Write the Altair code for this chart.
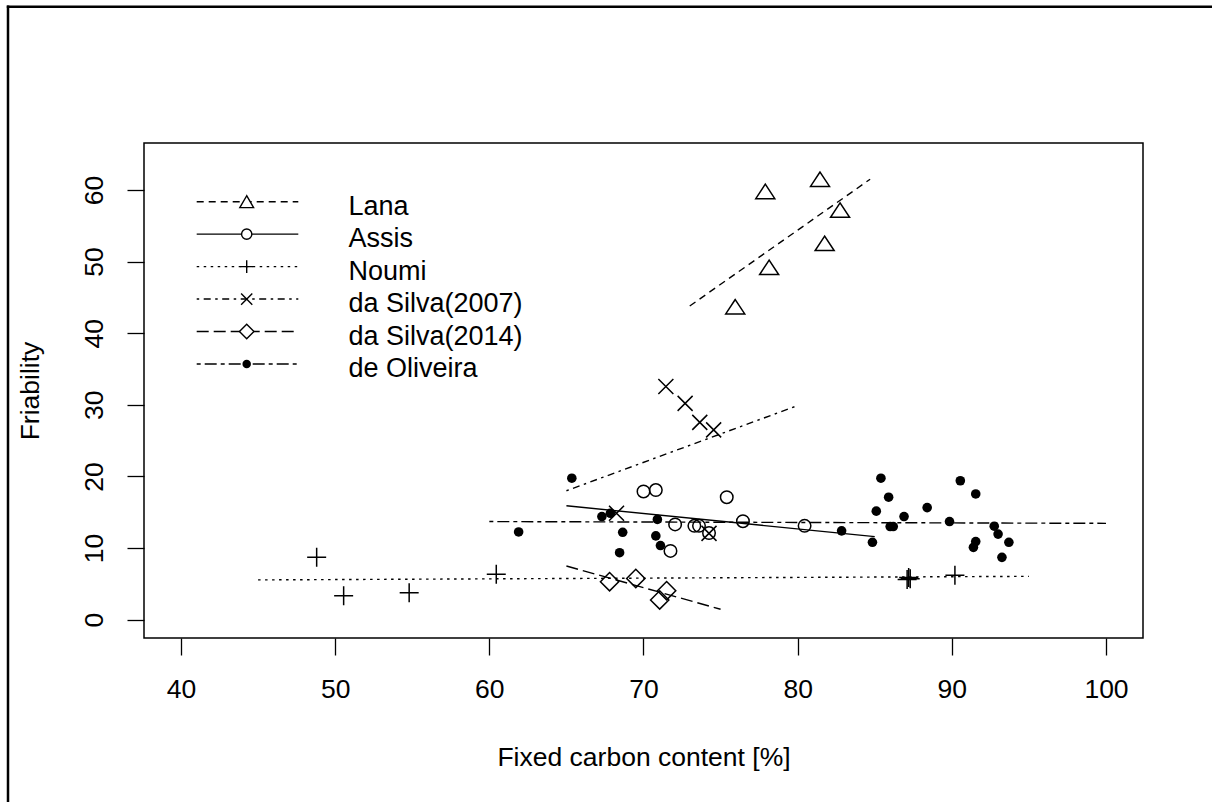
import altair as alt
import pandas as pd

FONT = "Liberation Sans"
W, H = 999, 495

names = ["Lana", "Assis", "Noumi", "da Silva(2007)", "da Silva(2014)", "de Oliveira"]

lana_x = [77.9, 81.45, 82.75, 81.75, 78.15, 75.95]
lana_y = [59.8, 61.5, 57.2, 52.55, 49.2, 43.7]
assis_x = [70.0, 70.8, 75.4, 72.05, 73.3, 73.6, 74.25, 76.45, 80.45, 71.75]
assis_y = [17.9, 18.1, 17.1, 13.3, 13.1, 13.1, 12.1, 13.75, 13.1, 9.6]
noumi_x = [48.8, 50.55, 54.8, 60.45, 87.1, 87.2, 87.3, 90.2]
noumi_y = [8.7, 3.35, 3.75, 6.35, 5.6, 5.9, 5.7, 6.2]
silva07_x = [71.45, 72.7, 73.65, 74.55, 68.25, 74.25]
silva07_y = [32.55, 30.2, 27.55, 26.5, 14.85, 12.05]
silva14_x = [67.8, 69.5, 71.5, 71.05]
silva14_y = [5.3, 5.75, 4.05, 2.75]
oliveira_x = [65.35, 67.3, 67.85, 70.9, 68.65, 70.8, 71.1, 68.45, 61.9, 82.85,
              84.85, 85.4, 85.9, 85.1, 86.9, 86.0, 86.2, 88.4, 89.85, 90.55,
              91.55, 92.75, 93.0, 93.7, 91.4, 91.55, 93.25]
oliveira_y = [19.75, 14.4, 14.85, 14.0, 12.2, 11.7, 10.35, 9.35, 12.25, 12.4,
              10.8, 19.75, 17.1, 15.15, 14.4, 13.0, 13.0, 15.65, 13.7, 19.4,
              17.55, 13.05, 11.95, 10.8, 10.1, 10.9, 8.7]

# fitted trend lines (start, end)
lana_lx, lana_ly = [73.0, 84.7], [43.8, 61.5]
assis_lx, assis_ly = [65.0, 85.0], [15.9, 11.6]
noumi_lx, noumi_ly = [45.0, 95.0], [5.55, 6.05]
silva07_lx, silva07_ly = [65.0, 80.0], [18.0, 29.9]
silva14_lx, silva14_ly = [65.0, 75.0], [7.5, 1.45]
oliveira_lx, oliveira_ly = [60.0, 100.0], [13.7, 13.45]

x_ticks = [40, 50, 60, 70, 80, 90, 100]
y_ticks = [0, 10, 20, 30, 40, 50, 60]

TRI = "M0,-0.76L-1,0.76L1,0.76Z"
PLUS = "M-1,0L1,0M0,-1L0,1"
XSH = "M-1,-1L1,1M-1,1L1,-1"

style = [
    # shape, size, filled, dash, legend shape, legend size
    (TRI, 361, False, [7, 5], "triangle-up", 190),
    ("circle", 156, False, None, "circle", 105),
    (PLUS, 361, False, [2.5, 4.5], PLUS, 160),
    (XSH, 225, False, [2.5, 4.5, 7, 4.5], XSH, 125),
    ("diamond", 335, False, [12, 5], "diamond", 210),
    ("circle", 92, True, [4, 4, 12, 4], "circle", 72),
]

pts_data = [(lana_x, lana_y), (assis_x, assis_y), (noumi_x, noumi_y),
            (silva07_x, silva07_y), (silva14_x, silva14_y), (oliveira_x, oliveira_y)]
line_data = [(lana_lx, lana_ly), (assis_lx, assis_ly), (noumi_lx, noumi_ly),
             (silva07_lx, silva07_ly), (silva14_lx, silva14_ly), (oliveira_lx, oliveira_ly)]

xs = alt.Scale(domain=[37.6, 102.4], nice=False, zero=False)
ys = alt.Scale(domain=[-2.56, 66.56], nice=False, zero=False)

FS = 26.5

x_axis = alt.Axis(values=x_ticks, tickSize=17, tickWidth=1.3, tickColor="black",
                  labelFont=FONT, labelFontSize=FS, labelColor="black",
                  labelPadding=34, labelBaseline="middle", labelAlign="center",
                  labelFlush=False, labelOverlap=False, domain=False, grid=False,
                  titleFont=FONT, titleFontSize=FS, titleFontWeight="normal",
                  titleColor="black", titleX=499.5, titleY=119,
                  titleBaseline="middle", titleAlign="center")
y_axis = alt.Axis(values=y_ticks, tickSize=17, tickWidth=1.3, tickColor="black",
                  labelFont=FONT, labelFontSize=FS, labelColor="black",
                  labelAngle=270, labelPadding=33, labelBaseline="middle",
                  labelAlign="center", labelFlush=False, labelOverlap=False,
                  domain=False, grid=False,
                  titleFont=FONT, titleFontSize=FS, titleFontWeight="normal",
                  titleColor="black", titleAngle=270, titleX=-114, titleY=247.5,
                  titleBaseline="middle", titleAlign="center")

X = alt.X("x:Q", scale=xs, axis=x_axis, title="Fixed carbon content [%]")
Y = alt.Y("y:Q", scale=ys, axis=y_axis, title="Friability")

bdf = pd.DataFrame({"a": [0]})
border_top = alt.Chart(bdf).mark_rule(color="black", strokeWidth=2.5).encode(
    x=alt.value(-137.2), x2=alt.value(1100), y=alt.value(-136.2))
border_left = alt.Chart(bdf).mark_rule(color="black", strokeWidth=2.5).encode(
    x=alt.value(-136), y=alt.value(-137.4), y2=alt.value(700))

layers = [border_top, border_left]
for i, name in enumerate(names):
    shape, size, filled, dash, lshape, lsize = style[i]
    lx, ly = line_data[i]
    line_kw = dict(color="black", strokeWidth=1.4)
    if dash:
        line_kw["strokeDash"] = dash
    layers.append(alt.Chart(pd.DataFrame({"x": lx, "y": ly})).mark_line(**line_kw).encode(x=X, y=Y))

for i, name in enumerate(names):
    shape, size, filled, dash, lshape, lsize = style[i]
    px, py = pts_data[i]
    df = pd.DataFrame({"x": px, "y": py})
    if filled:
        mk = alt.Chart(df).mark_point(shape=shape, size=size, filled=True, color="black",
                                      opacity=1, strokeWidth=0)
    else:
        mk = alt.Chart(df).mark_point(shape=shape, size=size, filled=False, color="black",
                                      opacity=1, strokeWidth=1.5)
    layers.append(mk.encode(x=X, y=Y))

# legend
for i, name in enumerate(names):
    shape, size, filled, dash, lshape, lsize = style[i]
    ry = 58.7 + i * 32.45
    ldf = pd.DataFrame({"label": [name]})
    rk = dict(color="black", strokeWidth=1.4)
    if dash:
        rk["strokeDash"] = dash
    layers.append(alt.Chart(ldf).mark_rule(**rk).encode(
        x=alt.value(52.7), x2=alt.value(154.3), y=alt.value(ry)))
    layers.append(alt.Chart(ldf).mark_point(
        shape=lshape, size=lsize, filled=filled, color="black", opacity=1,
        strokeWidth=0 if filled else 1.4, fill="black" if filled else "white"
    ).encode(x=alt.value(102.7), y=alt.value(ry)))
    layers.append(alt.Chart(ldf).mark_text(
        align="left", baseline="alphabetic", font=FONT, fontSize=27, color="black"
    ).encode(x=alt.value(204.5), y=alt.value(ry + 13.3), text="label:N"))

chart = alt.layer(*layers).properties(
    width=W, height=H,
    padding={"left": 144, "top": 143, "right": 69, "bottom": 164},
    autosize=alt.AutoSizeParams(type="none"),
    background="white",
).configure_view(stroke="black", strokeWidth=1.5)

chart.save("out.html", embed_options={"renderer": "svg", "actions": False})
